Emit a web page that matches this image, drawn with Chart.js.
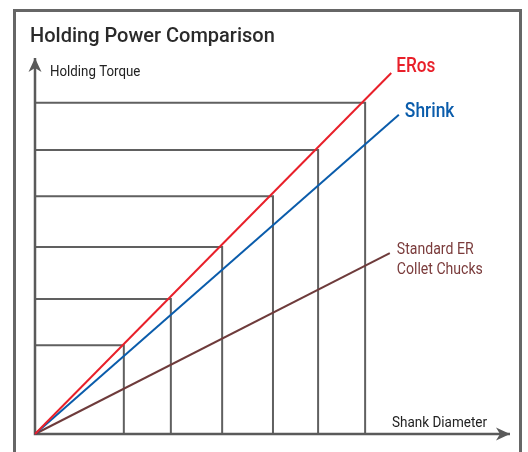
<!DOCTYPE html>
<html>
<head>
<meta charset="utf-8">
<title>Holding Power Comparison</title>
<script src="https://cdn.jsdelivr.net/npm/chart.js@4.4.0/dist/chart.umd.min.js"></script>
<style>
  body { margin: 0; background: #fff; overflow: hidden; }
  #frame { position: absolute; left: 13px; top: 9px; width: 503px; height: 470px;
           border: 3px solid #666; border-bottom: none; }
  #wrap { position: absolute; left: 0; top: 0; width: 528px; height: 452px; }
</style>
</head>
<body>
<div id="frame"></div>
<div id="wrap"><canvas id="myChart" width="528" height="452"></canvas></div>
<script>
// axis ranges (arbitrary units, no ticks shown)
var diameterMax = 100;
var torqueMax = 80;

// staircase corners
var stepDiameter = [18.7, 28.6, 39.4, 50.1, 59.6, 69.5];
var stepTorque = [18.9, 28.7, 39.8, 50.6, 60.4, 70.5];

// the three lines, start and end points
var erosX = [0, 75.0];
var erosY = [0, 76.8];
var shrinkX = [0, 76.6];
var shrinkY = [0, 67.9];
var standardX = [0, 74.7];
var standardY = [0, 38.5];

var seriesLabels = ['ERos', 'Shrink', ['Standard ER', 'Collet Chucks']];
var seriesColors = ['#e8202a', '#0a5cab', '#6e3b3b'];
var gridColor = '#606060';

function toPoints(xs, ys) {
  var pts = [];
  for (var i = 0; i < xs.length; i++) pts.push({ x: xs[i], y: ys[i] });
  return pts;
}

var datasets = [];

// main lines
var lineXs = [erosX, shrinkX, standardX];
var lineYs = [erosY, shrinkY, standardY];
for (var i = 0; i < 3; i++) {
  datasets.push({
    label: Array.isArray(seriesLabels[i]) ? seriesLabels[i].join(' ') : seriesLabels[i],
    data: toPoints(lineXs[i], lineYs[i]),
    borderColor: seriesColors[i],
    borderWidth: 2,
    pointRadius: 0,
    showLine: true,
    clip: false,
    order: 1
  });
}

// axes
datasets.push({
  label: 'axes',
  data: [{ x: 0, y: torqueMax }, { x: 0, y: 0 }, { x: diameterMax, y: 0 }],
  borderColor: '#5a5a5a',
  borderWidth: 2.5,
  pointRadius: 0,
  showLine: true,
  clip: false,
  order: 2
});

// staircase grid
for (var s = 0; s < stepDiameter.length; s++) {
  datasets.push({
    label: 'step' + s,
    data: [{ x: 0, y: stepTorque[s] }, { x: stepDiameter[s], y: stepTorque[s] }, { x: stepDiameter[s], y: 0 }],
    borderColor: gridColor,
    borderWidth: 2,
    pointRadius: 0,
    showLine: true,
    clip: false,
    order: 3
  });
}

function drawText(ctx, text, x, y, size, weight, color, squeeze) {
  ctx.save();
  ctx.font = weight + ' ' + size + 'px Roboto';
  ctx.fillStyle = color;
  ctx.textAlign = 'left';
  ctx.textBaseline = 'alphabetic';
  ctx.translate(x, y);
  ctx.scale(squeeze, 1);
  ctx.fillText(text, 0, 0);
  ctx.restore();
}

function arrowHead(ctx, x, y, angle) {
  ctx.save();
  ctx.translate(x, y);
  ctx.rotate(angle);
  ctx.fillStyle = '#5a5a5a';
  ctx.beginPath();
  ctx.moveTo(0, 0);
  ctx.lineTo(-14, -6.5);
  ctx.lineTo(-10, 0);
  ctx.lineTo(-14, 6.5);
  ctx.closePath();
  ctx.fill();
  ctx.restore();
}

var decorations = {
  id: 'decorations',
  afterDatasetsDraw: function (chart) {
    var ctx = chart.ctx;
    var xs = chart.scales.x, ys = chart.scales.y;

    // arrow heads
    arrowHead(ctx, xs.getPixelForValue(diameterMax), ys.getPixelForValue(0), 0);
    arrowHead(ctx, xs.getPixelForValue(0), ys.getPixelForValue(torqueMax), -Math.PI / 2);

    // title and axis names
    drawText(ctx, 'Holding Power Comparison', 30, 42, 20, '500', '#2a2a2a', 1.0);
    drawText(ctx, 'Holding Torque', 50, 76, 14, '400', '#222', 0.95);
    drawText(ctx, 'Shank Diameter', 392, 427, 15, '400', '#222', 0.9);

    // series labels next to line ends
    var ex = xs.getPixelForValue(erosX[1]), ey = ys.getPixelForValue(erosY[1]);
    drawText(ctx, seriesLabels[0], ex + 5, ey - 1, 20, '500', seriesColors[0], 0.86);
    var sx = xs.getPixelForValue(shrinkX[1]), sy = ys.getPixelForValue(shrinkY[1]);
    drawText(ctx, seriesLabels[1], sx + 6, sy + 2, 20, '500', seriesColors[1], 0.87);
    var tx = xs.getPixelForValue(standardX[1]), ty = ys.getPixelForValue(standardY[1]);
    drawText(ctx, seriesLabels[2][0], tx + 7, ty + 1, 16, '400', '#7a3b3b', 0.88);
    drawText(ctx, seriesLabels[2][1], tx + 7, ty + 21, 16, '400', '#7a3b3b', 0.88);
  }
};

var ctx = document.getElementById('myChart').getContext('2d');
var chart = new Chart(ctx, {
  type: 'scatter',
  data: { datasets: datasets },
  options: {
    responsive: false,
    animation: false,
    layout: { padding: { left: 35, right: 18, top: 58, bottom: 18 } },
    scales: {
      x: { type: 'linear', min: 0, max: diameterMax, display: false },
      y: { type: 'linear', min: 0, max: torqueMax, display: false }
    },
    plugins: {
      legend: { display: false },
      tooltip: { enabled: false },
      title: { display: false }
    }
  },
  plugins: [decorations]
});
</script>
</body>
</html>
